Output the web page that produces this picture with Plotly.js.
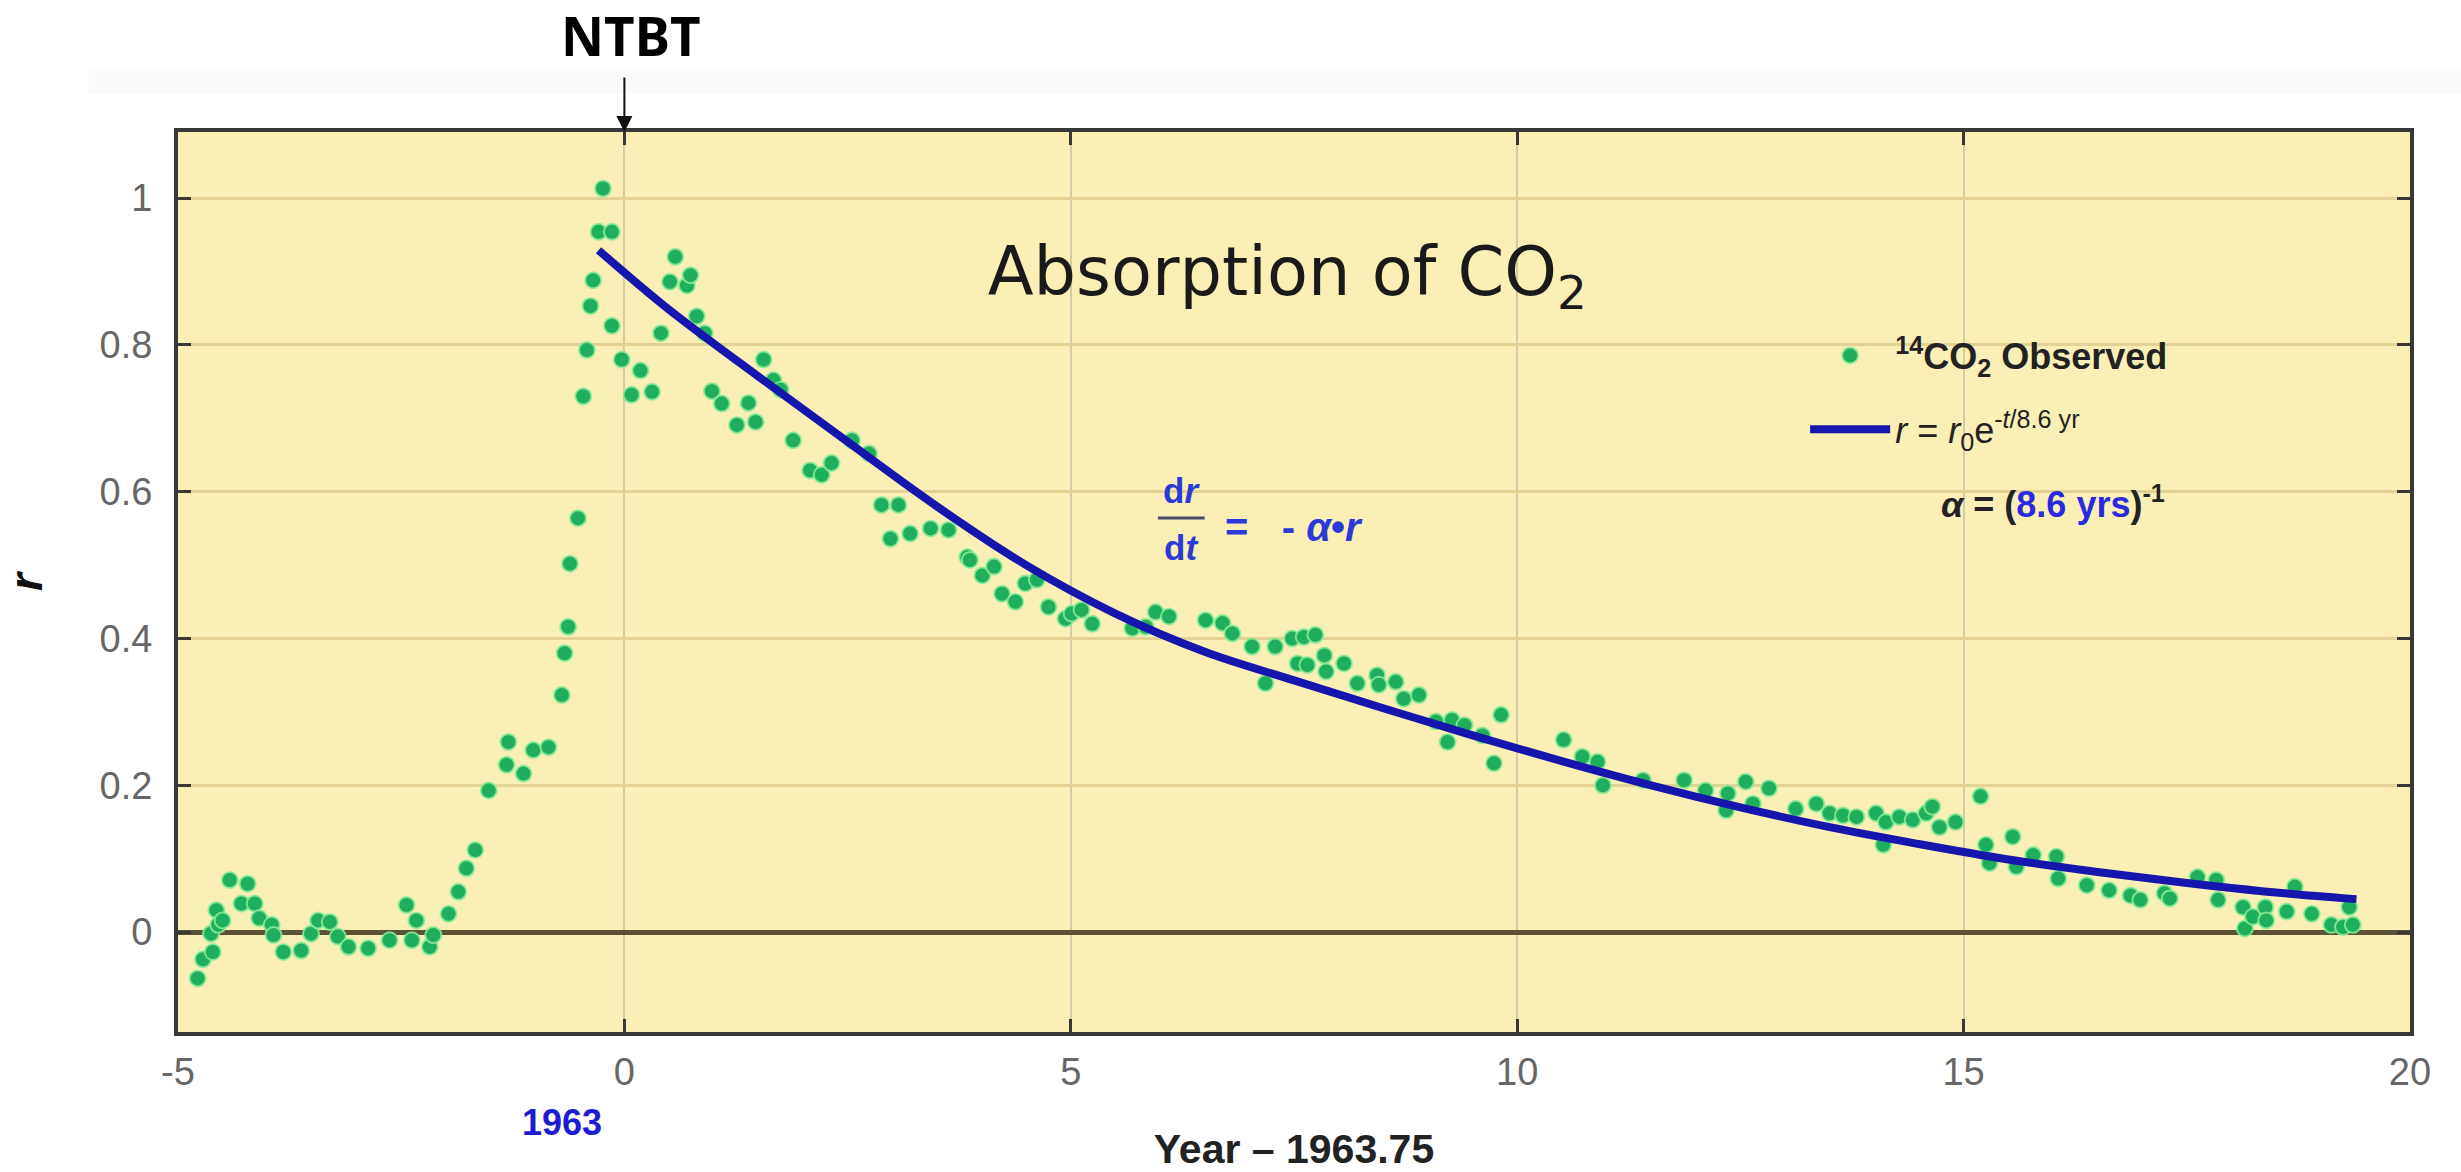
<!DOCTYPE html>
<html>
<head>
<meta charset="utf-8">
<script src="https://cdn.plot.ly/plotly-3.0.1.min.js"></script>
<style>
html,body{margin:0;padding:0;background:#ffffff;}
#chart{width:2461px;height:1172px;}
</style>
</head>
<body>
<div id="chart"></div>
<script>
// Observed 14CO2 excess r versus (Year - 1963.75)
const obsYear = [
 -4.78,-4.72,-4.63,-4.61,-4.57,-4.55,-4.50,-4.42,-4.29,-4.22,-4.14,-4.09,-3.95,-3.93,-3.82,-3.62,-3.51,-3.43,-3.30,-3.21,
 -3.09,-2.87,-2.63,-2.44,-2.38,-2.33,-2.18,-2.14,-1.97,-1.86,-1.77,-1.67,-1.52,-1.32,-1.30,-1.13,-1.02,-0.85,-0.70,-0.67,
 -0.63,-0.61,-0.52,-0.46,-0.42,-0.38,-0.35,-0.29,-0.24,-0.14,-0.14,-0.03,0.08,0.18,0.31,0.41,0.51,0.57,0.70,0.74,
 0.81,0.90,0.98,1.09,1.26,1.39,1.47,1.56,1.67,1.75,1.89,2.08,2.21,2.32,2.55,2.74,2.88,2.98,3.07,3.20,
 3.43,3.63,3.84,3.87,4.01,4.14,4.23,4.38,4.49,4.62,4.75,4.94,5.01,5.12,5.24,5.69,5.84,5.95,6.10,6.51,
 6.70,6.81,7.03,7.18,7.29,7.48,7.54,7.61,7.65,7.74,7.84,7.86,8.06,8.21,8.43,8.45,8.64,8.73,8.90,9.09,
 9.22,9.27,9.41,9.61,9.74,9.82,10.52,10.73,10.90,10.96,11.41,11.87,12.11,12.34,12.36,12.56,12.64,12.82,13.12,13.35,
 13.50,13.65,13.80,14.02,14.10,14.13,14.28,14.43,14.58,14.65,14.73,14.91,15.19,15.25,15.29,15.55,15.59,15.78,16.04,16.06,
 16.38,16.63,16.87,16.98,17.25,17.31,17.62,17.83,17.85,18.13,18.15,18.24,18.38,18.39,18.62,18.71,18.90,19.12,19.25,19.32,
 19.36
];
const obsR = [
 -0.063,-0.037,-0.002,-0.027,0.030,0.010,0.016,0.071,0.039,0.066,0.039,0.019,0.010,-0.004,-0.027,-0.025,-0.002,0.016,0.014,-0.006,
 -0.020,-0.022,-0.011,0.037,-0.011,0.016,-0.020,-0.004,0.025,0.055,0.087,0.112,0.193,0.228,0.259,0.216,0.248,0.252,0.323,0.380,
 0.416,0.502,0.564,0.730,0.793,0.853,0.888,0.954,1.013,0.954,0.826,0.780,0.732,0.765,0.736,0.816,0.886,0.920,0.881,0.895,
 0.839,0.816,0.737,0.720,0.691,0.721,0.695,0.780,0.752,0.739,0.670,0.629,0.623,0.639,0.670,0.652,0.582,0.536,0.582,0.543,
 0.550,0.548,0.511,0.507,0.486,0.498,0.461,0.450,0.475,0.480,0.443,0.427,0.434,0.439,0.420,0.414,0.416,0.436,0.430,0.425,
 0.421,0.407,0.389,0.339,0.389,0.400,0.366,0.402,0.364,0.405,0.377,0.355,0.366,0.339,0.350,0.337,0.341,0.318,0.323,0.287,
 0.259,0.289,0.282,0.268,0.230,0.296,0.262,0.239,0.232,0.200,0.207,0.207,0.193,0.166,0.189,0.205,0.175,0.196,0.168,0.175,
 0.162,0.159,0.157,0.162,0.119,0.150,0.157,0.153,0.162,0.171,0.143,0.150,0.185,0.119,0.094,0.130,0.089,0.105,0.103,0.073,
 0.064,0.057,0.050,0.044,0.053,0.046,0.075,0.071,0.044,0.034,0.005,0.021,0.034,0.016,0.028,0.062,0.025,0.010,0.007,0.034,
 0.010
];
// Fitted exponential curve
const fitYear = [-0.29,0.5,1.5,2.5,3.5,4.5,5.5,6.5,7.5,8.5,9.5,10.5,11.5,12.5,13.5,14.5,15.5,16.5,17.5,18.5,19.4];
const fitR    = [0.929,0.848,0.757,0.668,0.580,0.500,0.434,0.382,0.343,0.305,0.268,0.233,0.200,0.170,0.143,0.120,0.099,0.082,0.067,0.054,0.045];
const xTicks = [-5,0,5,10,15,20];
const yTicks = [0,0.2,0.4,0.6,0.8,1];
const nameObserved = '<b><sup>14</sup>CO<sub>2</sub> Observed</b>';
const nameFit = '<i>r</i> = <i>r</i><sub>0</sub>e<sup>-<i>t</i>/8.6 yr</sup>';

const FONT = 'Liberation Sans, Arial, sans-serif';
const BLUE = '#2b3ad6';

const traces = [
  {
    type: 'scatter', mode: 'markers', x: obsYear, y: obsR, name: nameObserved,
    legendgroup: 'a',
    marker: {color: '#1fae5c', size: 16, line: {width: 2, color: 'rgba(140,235,150,0.85)'}}
  },
  {
    type: 'scatter', mode: 'lines', x: fitYear, y: fitR, name: nameFit,
    legendgroup: 'b',
    line: {color: '#1616ac', width: 8, shape: 'spline', smoothing: 1}
  }
];

const layout = {
  width: 2461, height: 1172,
  margin: {l: 178, r: 51, t: 132, b: 140, pad: 0},
  paper_bgcolor: '#ffffff',
  plot_bgcolor: '#faf0b6',
  font: {family: FONT, color: '#222'},
  title: {
    text: 'Absorption of CO<sub>2</sub>',
    font: {family: 'DejaVu Sans, Liberation Sans, sans-serif', size: 67, color: '#1a1a1a'},
    xref: 'paper', yref: 'paper', x: 0.497, y: 0.845, xanchor: 'center', yanchor: 'middle'
  },
  showlegend: true,
  legend: {
    x: 0.729, y: 0.785, xanchor: 'left', yanchor: 'top',
    bgcolor: 'rgba(0,0,0,0)', borderwidth: 0,
    font: {family: FONT, size: 36, color: '#222'},
    traceorder: 'grouped', tracegroupgap: 24, itemwidth: 80
  },
  xaxis: {
    range: [-5, 20], tickvals: xTicks, ticktext: xTicks.map(String),
    showgrid: true, gridcolor: '#d3cba8', gridwidth: 2,
    zeroline: false,
    showline: true, linecolor: '#383838', linewidth: 4, mirror: 'ticks',
    ticks: 'inside', ticklen: 13, tickwidth: 3, tickcolor: '#383838',
    tickfont: {family: FONT, size: 38, color: '#666'},
    ticklabelstandoff: 3,
    title: {text: '<b>Year – 1963.75</b>', font: {family: FONT, size: 41, color: '#222'}, standoff: 52}
  },
  yaxis: {
    range: [-0.136, 1.09], tickvals: yTicks,
    showgrid: true, gridcolor: '#e2d394', gridwidth: 3,
    zeroline: true, zerolinecolor: '#5a5232', zerolinewidth: 5,
    showline: true, linecolor: '#383838', linewidth: 4, mirror: 'ticks',
    ticks: 'inside', ticklen: 13, tickwidth: 3, tickcolor: '#383838',
    tickfont: {family: FONT, size: 38, color: '#666'},
    ticklabelstandoff: 14,
    title: {text: '<b><i>r</i></b>', font: {family: FONT, size: 46, color: '#111'}, standoff: 70}
  },
  shapes: [
    {type: 'rect', xref: 'paper', yref: 'paper', x0: -0.04, x1: 1.03, y0: 1.042, y1: 1.068,
     fillcolor: '#fafafa', line: {width: 0}, layer: 'below'},
    {type: 'line', xref: 'paper', yref: 'paper', x0: 0.439, x1: 0.460, y0: 0.571, y1: 0.571,
     line: {color: '#4a4a6a', width: 3}}
  ],
  annotations: [
    {text: '<b>NTBT</b>', xref: 'x', yref: 'paper', x: 0.07, y: 1.107, showarrow: false,
     xanchor: 'center', yanchor: 'middle', font: {family: 'Noto Sans, DejaVu Sans, sans-serif', size: 53, color: '#000'}},
    {text: '', xref: 'x', yref: 'paper', x: 0, y: 1.0, showarrow: true, ax: 0, ay: -56,
     arrowhead: 2, arrowsize: 1.6, arrowwidth: 2, arrowcolor: '#111', standoff: 0},
    {text: '<b>d<i>r</i></b>', xref: 'paper', yref: 'paper', x: 0.4495, y: 0.602, showarrow: false,
     xanchor: 'center', yanchor: 'middle', font: {family: FONT, size: 35, color: BLUE}},
    {text: '<b>d<i>t</i></b>', xref: 'paper', yref: 'paper', x: 0.4495, y: 0.538, showarrow: false,
     xanchor: 'center', yanchor: 'middle', font: {family: FONT, size: 35, color: BLUE}},
    {text: '<b>=\u00a0\u00a0\u00a0-\u00a0<i>α</i>•<i>r</i></b>', xref: 'paper', yref: 'paper', x: 0.468, y: 0.561, showarrow: false,
     xanchor: 'left', yanchor: 'middle', font: {family: FONT, size: 40, color: BLUE}},
    {text: '<b><i>α</i> = (<span style="color:#2a2ae0">8.6 yrs</span>)<sup>-1</sup></b>', xref: 'paper', yref: 'paper',
     x: 0.789, y: 0.589, showarrow: false, xanchor: 'left', yanchor: 'middle',
     font: {family: FONT, size: 36, color: '#222'}},
    {text: '<b>1963</b>', xref: 'x', yref: 'paper', x: -0.7, y: -0.1, showarrow: false,
     xanchor: 'center', yanchor: 'middle', font: {family: FONT, size: 36, color: '#1c1cd0'}}
  ]
};

Plotly.newPlot('chart', traces, layout, {displayModeBar: false, responsive: false});
</script>
</body>
</html>
